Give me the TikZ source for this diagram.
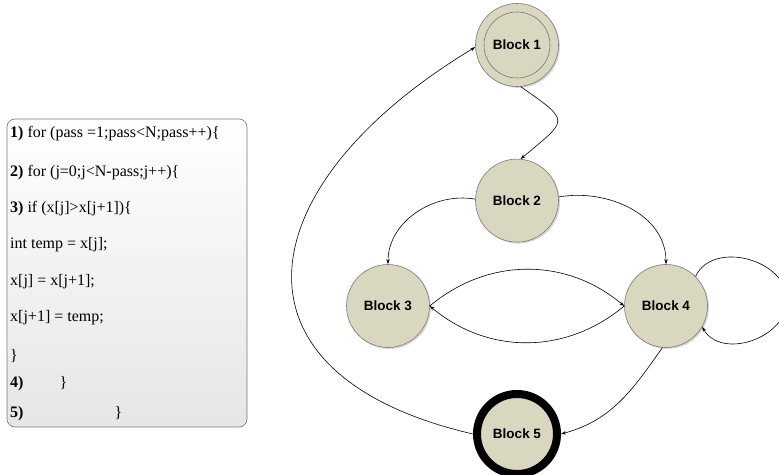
\documentclass[tikz,border=0pt]{standalone}
\usepackage{fontspec}
\setmainfont{Liberation Serif}
\newfontfamily\blockfont{Liberation Sans}
\usetikzlibrary{positioning,arrows.meta,shadows}

\definecolor{blockfill}{RGB}{217,215,191}
\definecolor{blockline}{RGB}{120,120,120}

\begin{document}
\begin{tikzpicture}[
x=1pt,y=1pt,
block/.style={
circle,draw=blockline,line width=0.6pt,
fill=blockfill,
minimum size=83pt,inner sep=0pt,
font=\blockfont\bfseries\fontsize{13.5}{16}\selectfont,
drop shadow={shadow xshift=1.5pt,shadow yshift=-1.5pt,opacity=0.3}
},
endblock/.style={block,draw=black,line width=8pt,minimum size=80pt},
codeline/.style={anchor=west,inner sep=0pt,font=\fontsize{16}{19}\selectfont},
arrow/.style={-{Stealth[length=5pt,width=3.5pt]},line width=0.6pt}
]
\useasboundingbox (0,0) rectangle (779,474);

% listing of the sort loop
\node[draw=blockline,line width=0.6pt,rounded corners=8pt,
  top color=white,bottom color=black!10,
  minimum width=240pt,minimum height=308pt] (code) at (127,201) {};
\node[codeline] (l1) at (10,340) {\textbf{1)} for (pass =1;pass<N;pass++)\{};
\node[codeline] (l2) at (10,301) {\textbf{2)} for (j=0;j<N-pass;j++)\{};
\node[codeline] (l3) at (10,265) {\textbf{3)} if (x[j]>x[j+1])\{};
\node[codeline] (l4) at (10,229) {int temp = x[j];};
\node[codeline] (l5) at (10,192) {x[j] = x[j+1];};
\node[codeline] (l6) at (10,156) {x[j+1] = temp;};
\node[codeline] (l7) at (10,118) {\}};
\node[codeline] (l8) at (10,90) {\textbf{4)}\hspace{36pt}\}};
\node[codeline] (l9) at (10,60) {\textbf{5)}\hspace{91pt}\}};

% control flow graph
\node[block] (b1) at (517,429) {Block 1};
\draw[blockline,line width=0.6pt] (b1.center) circle[radius=33pt];
\node[block,below=72pt of b1] (b2) {Block 2};
\node[block] (b3) at (388,168) {Block 3};
\node[block] (b4) at (666,168) {Block 4};
\node[endblock] (b5) at (517,40) {Block 5};
\coordinate (loop) at (787,174);

\draw[arrow] (b1.-85) to[out=-35,in=40,looseness=2.2] (b2.85);
\draw[arrow] (b2.178) to[out=170,in=90] (b3.north);
\draw[arrow] (b2.5) to[out=10,in=90] (b4.north);
\draw[arrow] (b3.east) to[bend left=40] (b4.west);
\draw[arrow] (b4.west) to[bend left=40] (b3.east);
\draw[arrow] (b4.-95) to[out=-125,in=15] (b5.east);
\draw[arrow] (b4.45) to[out=65,in=90,looseness=1.1] (loop)
  to[out=-90,in=-60,looseness=1.1] (b4.-30);
\draw[arrow] (b5.west) to[out=167,in=211,looseness=1.75] (b1.183);

\end{tikzpicture}
\end{document}
